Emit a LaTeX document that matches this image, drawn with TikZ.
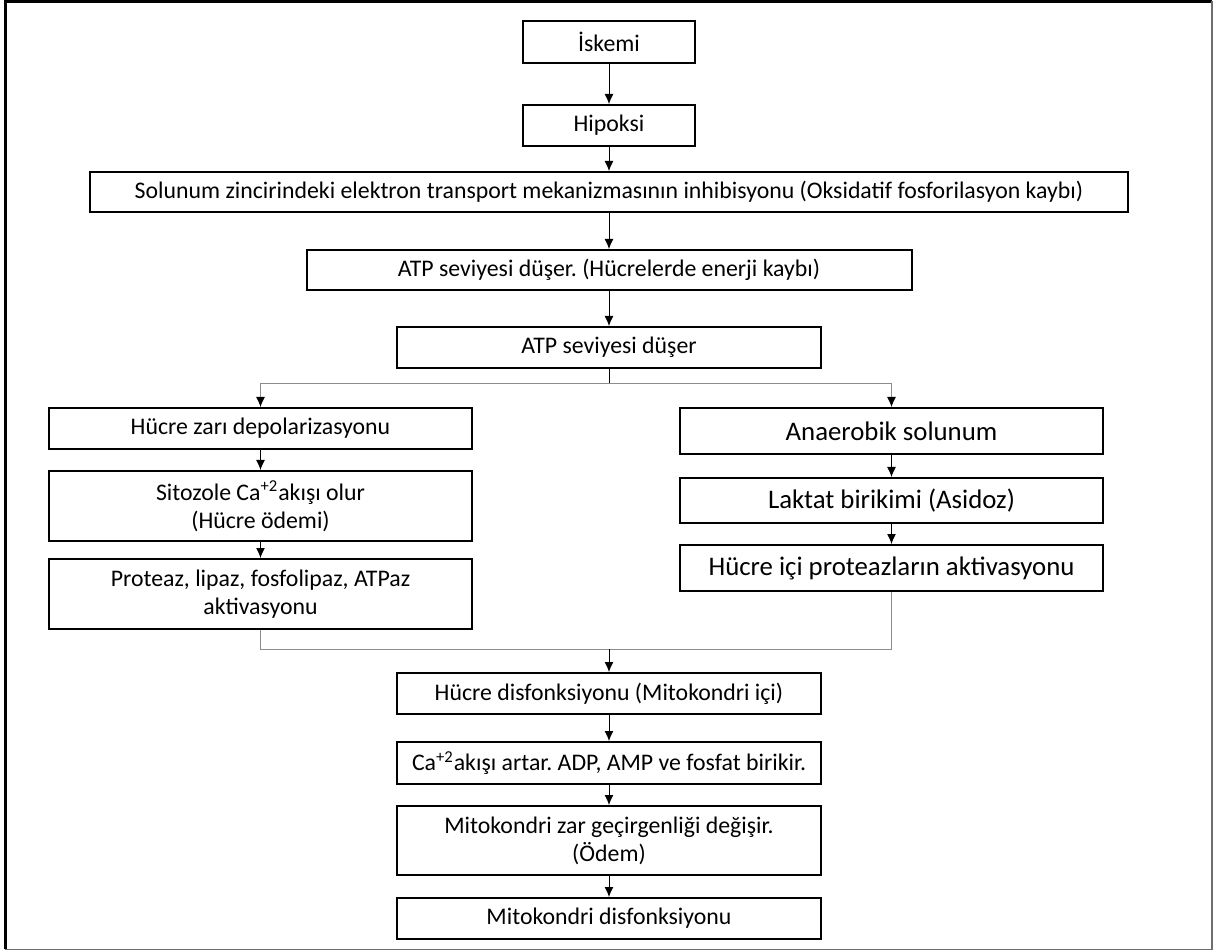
\documentclass[tikz,border=0pt]{standalone}
\usepackage{fontspec}
\setmainfont{Carlito}
\usepackage{xcolor}
\definecolor{linegray}{HTML}{8c8c8c}
\definecolor{framegray}{HTML}{6e6e6e}
\usepackage{tikz}
\usetikzlibrary{arrows.meta, positioning}
\frenchspacing
\tikzset{
    box/.style={
        draw, line width=1pt,
        inner sep=0pt,
        align=center,
        minimum height=20.5pt,
        font=\fontsize{11.9}{14}\selectfont
    },
    bigbox/.style={
        box,
        minimum width=211.5pt,
        font=\fontsize{13.4}{16}\selectfont
    },
    conn/.style={
        line width=0.5pt,
        -{Latex[length=5pt, width=4.5pt]},
    },
    gline/.style={
        line width=0.5pt, draw=linegray,
    },
    garrow/.style={
        gline,
        -{Latex[length=5pt, width=4.5pt, color=black]},
    },
}

\begin{document}
\begin{tikzpicture}
            [x=0.5pt, y=0.5pt]
            \useasboundingbox (0,0) rectangle (1214,-951);
            % outer frame
            \draw[line width=1.5pt] (5,-949) -- (5,-1.5) -- (1212,-1.5);
            \draw[framegray, line width=0.8pt] (1212,-1.5) -- (1212,-949.5) -- (5,-949.5);

            % main column
            \node[box, minimum width=86pt, minimum height=21pt] (isk) at (609,-42) {İskemi};
            \node[box, minimum width=86pt, below=20pt of isk] (hip) {Hipoksi};
            \node[box, minimum width=519pt, minimum height=20pt, below=12pt of hip] (sol)
                {Solunum zincirindeki elektron transport mekanizmasının inhibisyonu (Oksidatif fosforilasyon kaybı)};
            \node[box, minimum width=302.5pt, minimum height=20pt, below=18pt of sol] (atp1)
                {ATP seviyesi düşer. (Hücrelerde enerji kaybı)};
            \node[box, minimum width=212pt, below=17.5pt of atp1] (atp2) {ATP seviyesi düşer};

            % left branch
            \node[box, minimum width=211.5pt] (zar) at (260.5,-428.5) {Hücre zarı depolarizasyonu};
            \node[box, minimum width=211.5pt, minimum height=35pt, below=10pt of zar] (sito)
                {Sitozole Ca\textsuperscript{+2}akışı olur\\(Hücre ödemi)};
            \node[box, minimum width=211.5pt, minimum height=35pt, below=8pt of sito] (enz)
                {Proteaz, lipaz, fosfolipaz, ATPaz\\aktivasyonu};

            % right branch
            \node[bigbox, minimum height=23pt] (anae) at (891.5,-431) {Anaerobik solunum};
            \node[bigbox, minimum height=22.5pt, below=11pt of anae] (lakt) {Laktat birikimi (Asidoz)};
            \node[bigbox, minimum height=23pt, below=10pt of lakt] (prot) {Hücre içi proteazların aktivasyonu};

            % lower column
            \node[box, minimum width=212pt] (hdis) at (609,-693.5) {Hücre disfonksiyonu (Mitokondri içi)};
            \node[box, minimum width=212pt, minimum height=21pt, below=13pt of hdis] (caak)
                {Ca\textsuperscript{+2}akışı artar. ADP, AMP ve fosfat birikir.};
            \node[box, minimum width=212pt, minimum height=34.5pt, below=10pt of caak] (zar2)
                {Mitokondri zar geçirgenliği değişir.\\(Ödem)};
            \node[box, minimum width=212pt, below=10.5pt of zar2] (mdis) {Mitokondri disfonksiyonu};

            \coordinate (split) at (609,-384);
            \coordinate (join) at (609,-649);

            \draw[conn] (isk) -- (hip);
            \draw[conn] (hip) -- (sol);
            \draw[conn] (sol) -- (atp1);
            \draw[conn] (atp1) -- (atp2);
            \draw[line width=0.5pt] (atp2) -- (split);
            \draw[garrow] (split) -| (zar);
            \draw[garrow] (split) -| (anae);

            \draw[conn] (zar) -- (sito);
            \draw[conn] (sito) -- (enz);
            \draw[conn] (anae) -- (lakt);
            \draw[conn] (lakt) -- (prot);

            \draw[gline] (enz) |- (join);
            \draw[gline] (prot) |- (join);
            \draw[conn] (join) -- (hdis);

            \draw[conn] (hdis) -- (caak);
            \draw[conn] (caak) -- (zar2);
            \draw[conn] (zar2) -- (mdis);

        \end{tikzpicture}
\end{document}
